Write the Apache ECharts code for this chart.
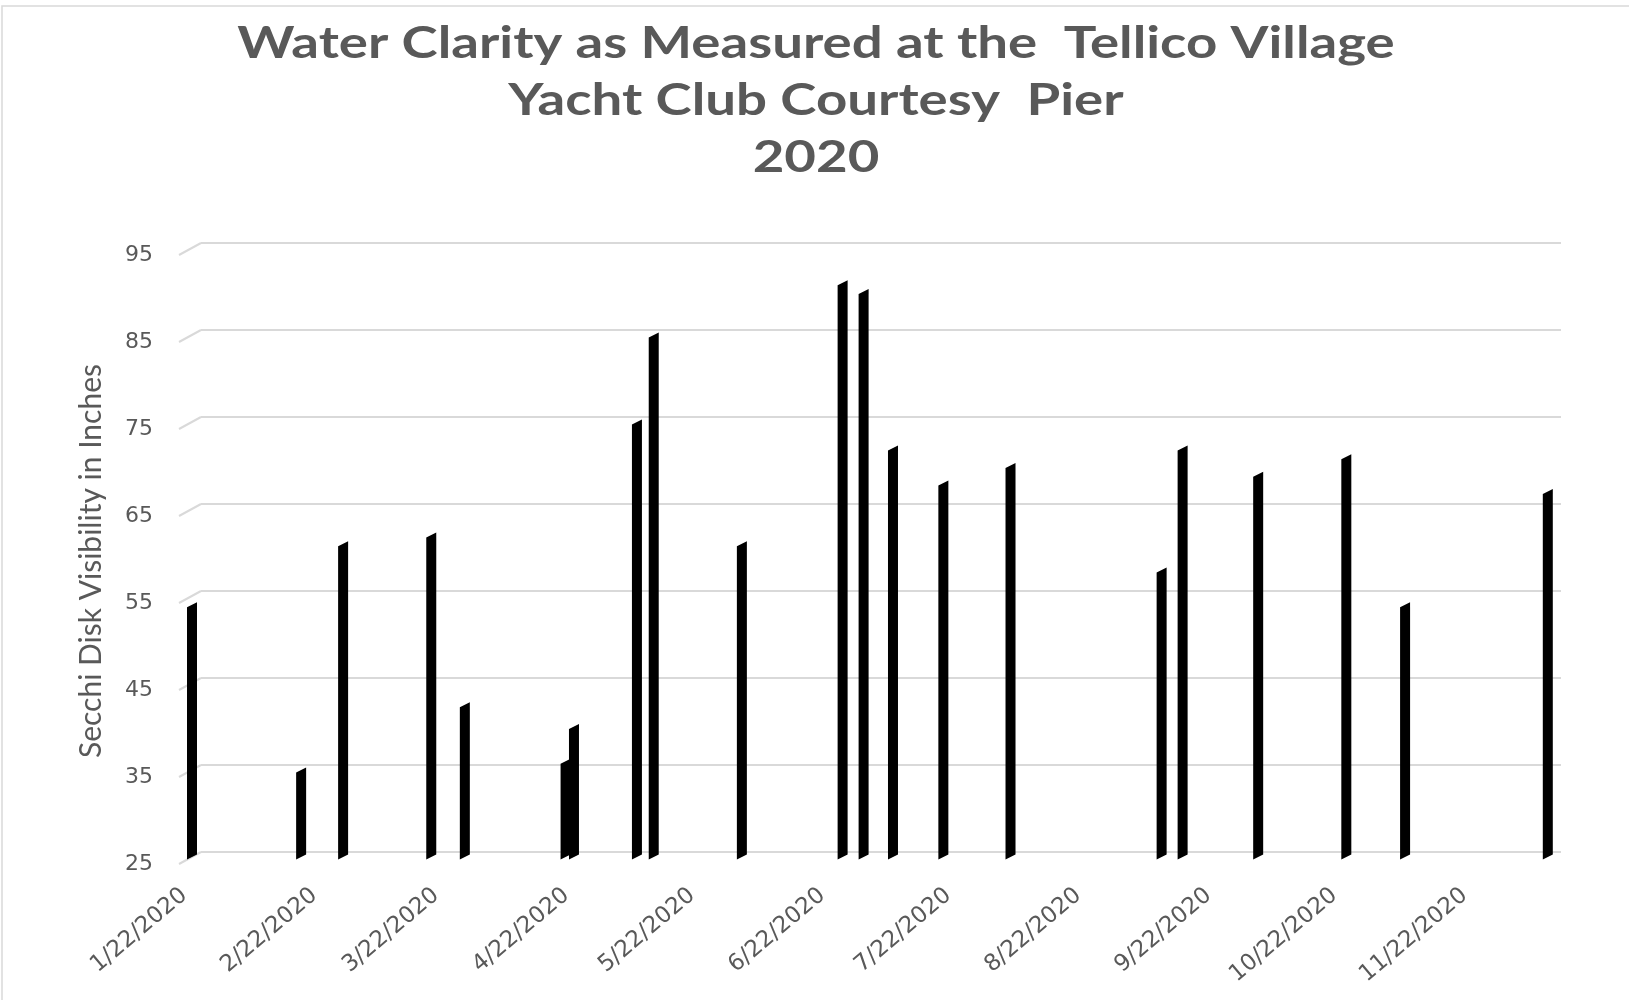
<!DOCTYPE html>
<html>
<head>
<meta charset="utf-8">
<title>Water Clarity 2020</title>
<script src="https://cdn.jsdelivr.net/npm/echarts@6/dist/echarts.min.js"></script>
<style>
  html, body { margin: 0; padding: 0; background: #ffffff; }
  #chart { width: 1629px; height: 1000px; }
</style>
</head>
<body>
<div id="chart"></div>
<script>
// Secchi disk readings taken at the courtesy pier during 2020
const sampleDates = [
  '2020-01-22', '2020-02-17', '2020-02-27', '2020-03-19', '2020-03-27',
  '2020-04-20', '2020-04-22', '2020-05-07', '2020-05-11', '2020-06-01',
  '2020-06-25', '2020-06-30', '2020-07-07', '2020-07-19', '2020-08-04',
  '2020-09-09', '2020-09-14', '2020-10-02', '2020-10-23', '2020-11-06',
  '2020-12-10'
];
const secchiInches = [
  54, 35, 61, 62, 42.5,
  36, 40, 75, 85, 61,
  91, 90, 72, 68, 70,
  58, 72, 69, 71, 54,
  67
];
// value axis ticks (inches)
const yTicks = [25, 35, 45, 55, 65, 75, 85, 95];
// date axis labels: the 22nd of each month
const xLabelMonths = [1, 2, 3, 4, 5, 6, 7, 8, 9, 10, 11];

const TEXT = '#595959';
const GRID_LINE = '#d9d9d9';
// pseudo-3D depth of the floor (front edge -> back wall)
const DEPTH_DX = 22;
const DEPTH_DY = -12;
// half width / half slant of each column
const COL_HALF = 5;
const COL_SLANT = 2.5;

const DAY = 86400000;
const dayNumber = (y, m, d) => Date.UTC(y, m - 1, d) / DAY;
const parseDay = s => { const p = s.split('-').map(Number); return dayNumber(p[0], p[1], p[2]); };

const xMin = dayNumber(2020, 1, 22);
const xMax = dayNumber(2020, 12, 11);
const yMin = yTicks[0];
const yMax = yTicks[yTicks.length - 1];
const xLabelValues = xLabelMonths.map(m => dayNumber(2020, m, 22));
const seriesData = sampleDates.map((d, i) => [parseDay(d), secchiInches[i]]);

const formatDay = v => {
  const d = new Date(Math.round(v) * DAY);
  return (d.getUTCMonth() + 1) + '/' + d.getUTCDate() + '/' + d.getUTCFullYear();
};

const chart = echarts.init(document.getElementById('chart'));

const dayAxis = (gridIndex, extra) => Object.assign({
  type: 'value', gridIndex, min: xMin, max: xMax, scale: true,
  axisLine: { show: false }, axisTick: { show: false },
  splitLine: { show: false }, axisLabel: { show: false }
}, extra || {});
const valueAxis = (gridIndex, extra) => Object.assign({
  type: 'value', gridIndex, min: yMin, max: yMax, interval: 10,
  axisLine: { show: false }, axisTick: { show: false },
  splitLine: { show: false }, axisLabel: { show: false }
}, extra || {});

chart.setOption({
  animation: false,
  backgroundColor: '#ffffff',
  graphic: [
    {
      type: 'rect', silent: true,
      shape: { x: 2, y: 6, width: 1700, height: 1100 },
      style: { fill: 'none', stroke: GRID_LINE, lineWidth: 1.5 }
    },
    {
      type: 'text', x: 816, y: 16, scaleX: 1.27, silent: true,
      style: {
        text: 'Water Clarity as Measured at the  Tellico Village\nYacht Club Courtesy  Pier\n2020',
        font: 'bold 43px Lato', fill: TEXT, align: 'center',
        verticalAlign: 'top', lineHeight: 57
      }
    },
    {
      type: 'text', x: 91, y: 561, rotation: Math.PI / 2, silent: true,
      style: {
        text: 'Secchi Disk Visibility in Inches',
        font: '30px Lato', fill: TEXT, align: 'center', verticalAlign: 'middle'
      }
    }
  ],
  grid: [
    // back wall: horizontal gridlines
    { left: 201, top: 243, width: 1360, height: 609 },
    // front edge of the floor: value labels
    { left: 179, top: 255, width: 1360, height: 609 },
    // column plane: columns and date labels
    { left: 192, top: 248, width: 1360, height: 609 }
  ],
  xAxis: [
    dayAxis(0),
    dayAxis(1),
    dayAxis(2, {
      axisLabel: {
        show: true, customValues: xLabelValues, rotate: 40, margin: 29,
        padding: [0, 10, 0, 0], hideOverlap: false, showMinLabel: true, showMaxLabel: true,
        color: TEXT, fontFamily: 'DejaVu Sans', fontSize: 23,
        formatter: formatDay
      }
    })
  ],
  yAxis: [
    valueAxis(0, { splitLine: { show: true, lineStyle: { color: GRID_LINE, width: 2 } } }),
    valueAxis(1, {
      axisLabel: { show: true, margin: 26, color: TEXT, fontFamily: 'DejaVu Sans', fontSize: 22 }
    }),
    valueAxis(2)
  ],
  series: [
    {
      // slanted floor edges joining each value label to its gridline
      type: 'custom', name: 'floor', xAxisIndex: 1, yAxisIndex: 1, silent: true, clip: false,
      data: yTicks.map(v => [xMin, v]),
      renderItem: (params, api) => {
        const p = api.coord([api.value(0), api.value(1)]);
        return {
          type: 'line',
          shape: { x1: p[0], y1: p[1], x2: p[0] + DEPTH_DX, y2: p[1] + DEPTH_DY },
          style: { stroke: GRID_LINE, lineWidth: 2 }
        };
      }
    },
    {
      type: 'custom', name: 'Secchi depth', xAxisIndex: 2, yAxisIndex: 2, clip: false,
      data: seriesData,
      encode: { x: 0, y: 1 },
      renderItem: (params, api) => {
        const top = api.coord([api.value(0), api.value(1)]);
        const base = api.coord([api.value(0), yMin]);
        const xl = top[0] - COL_HALF, xr = top[0] + COL_HALF;
        return {
          type: 'polygon',
          shape: {
            points: [
              [xl, base[1] + COL_SLANT], [xl, top[1] + COL_SLANT],
              [xr, top[1] - COL_SLANT], [xr, base[1] - COL_SLANT]
            ]
          },
          style: { fill: '#000000' }
        };
      }
    }
  ]
});
</script>
</body>
</html>
